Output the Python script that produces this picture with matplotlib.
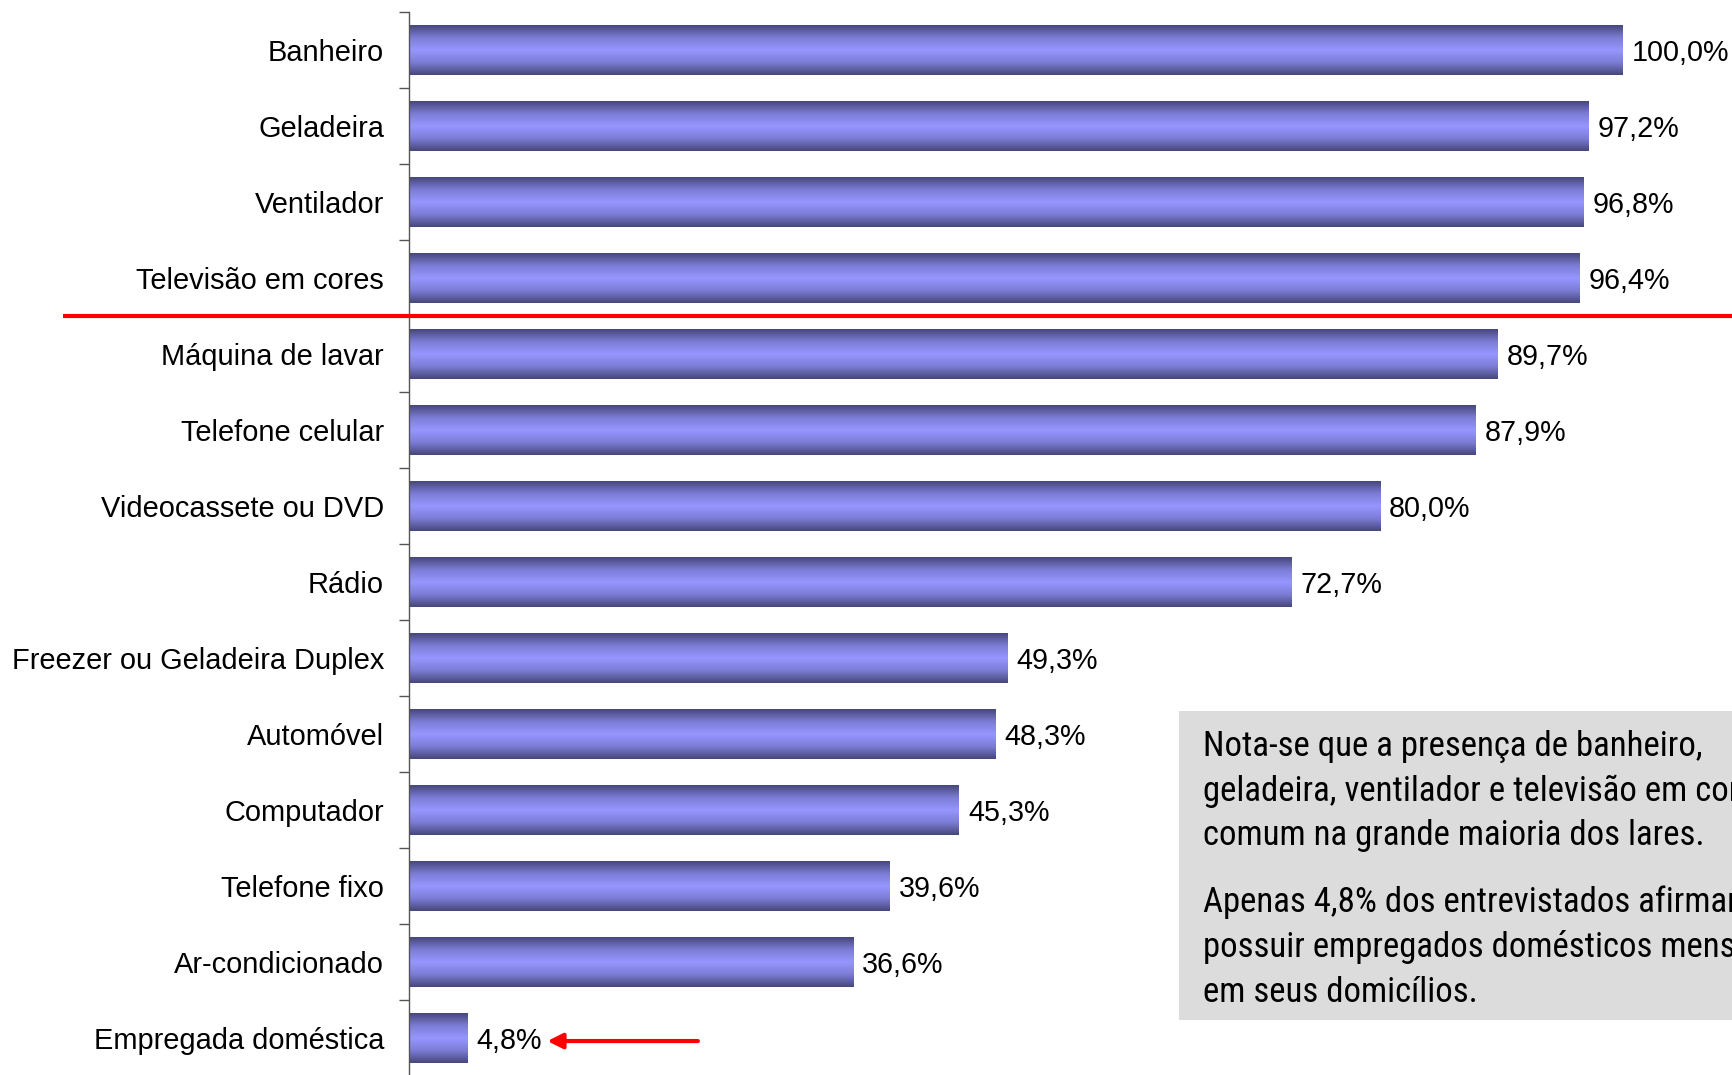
import numpy as np
import matplotlib
matplotlib.use("Agg")
import matplotlib.pyplot as plt
from matplotlib.colors import LinearSegmentedColormap
from matplotlib.patches import Rectangle
import matplotlib.transforms as mtransforms

categories = ["Banheiro", "Geladeira", "Ventilador", "Televisão em cores",
              "Máquina de lavar", "Telefone celular", "Videocassete ou DVD",
              "Rádio", "Freezer ou Geladeira Duplex", "Automóvel", "Computador",
              "Telefone fixo", "Ar-condicionado", "Empregada doméstica"]
values = [100.0, 97.2, 96.8, 96.4, 89.7, 87.9, 80.0, 72.7, 49.3, 48.3, 45.3,
          39.6, 36.6, 4.8]
value_labels = ["100,0%", "97,2%", "96,8%", "96,4%", "89,7%", "87,9%", "80,0%",
                "72,7%", "49,3%", "48,3%", "45,3%", "39,6%", "36,6%", "4,8%"]
note_par1 = ["Nota-se que a presença de banheiro,",
             "geladeira, ventilador e televisão em cores é",
             "comum na grande maioria dos lares."]
note_par2 = ["Apenas 4,8% dos entrevistados afirmam",
             "possuir empregados domésticos mensalistas",
             "em seus domicílios."]

plt.rcParams['font.family'] = ['Liberation Sans', 'DejaVu Sans']

W, H = 1732, 1075
fig = plt.figure(figsize=(W / 100, H / 100), dpi=100)
ax = fig.add_axes([409 / W, -1 / H, (W - 409) / W, 1064 / H])

fam_main = ['Liberation Sans', 'DejaVu Sans']
fam_narrow = ['Roboto Condensed', 'DejaVu Sans']

cmap = LinearSegmentedColormap.from_list(
    "bar", ["#46467a", "#7c7cd6", "#9696ff", "#7c7cd6", "#46467a"])
grad = np.linspace(0, 1, 256).reshape(-1, 1)

bh = 0.645
n = len(categories)
for i, (v, lab) in enumerate(zip(values, value_labels)):
    ax.imshow(grad, extent=[0, v, i + bh / 2, i - bh / 2], aspect='auto',
              cmap=cmap, interpolation='bicubic', zorder=2)
    ax.text(v + 0.75, i, lab, va='center_baseline', ha='left', fontsize=20.7,
            family=fam_main, color='black')

ax.set_xlim(0, 109)
ax.set_ylim(n - 0.5, -0.5)

for s in ["top", "right", "bottom"]:
    ax.spines[s].set_visible(False)
ax.spines["left"].set_color("#555555")
ax.spines["left"].set_linewidth(1.0)
ax.set_xticks([])
ax.set_yticks(np.arange(-0.5, n, 1.0))
ax.set_yticklabels([])
ax.tick_params(axis='y', which='major', length=7, color="#555555", width=1.0)
ax.set_yticks(np.arange(n), minor=True)
ax.set_yticklabels(categories, minor=True, fontsize=20.9, family=fam_main)
ax.tick_params(axis='y', which='minor', length=0, pad=18.0)

# red separator line
trans = mtransforms.blended_transform_factory(ax.transAxes, ax.transData)
ax.plot([(63 - 409) / (W - 409), 1.0], [3.5, 3.5], color="red", lw=3.0,
        transform=trans, clip_on=False, zorder=5, solid_capstyle='butt')

# arrow pointing to last value
ax.annotate("", xy=(values[-1] + 6.6, n - 1 + 0.04),
            xytext=(values[-1] + 19.0, n - 1 + 0.04),
            arrowprops=dict(arrowstyle="-|>,head_length=0.9,head_width=0.45",
                            color="red", lw=3.0, shrinkA=0, shrinkB=0),
            zorder=6)

# note box
fig.patches.append(Rectangle((1179 / W, (H - 1020) / H), (W - 1179) / W + 0.01,
                             (1020 - 711) / H, transform=fig.transFigure,
                             facecolor="#dcdcdc", edgecolor="none", zorder=0))
for j, line in enumerate(note_par1):
    fig.text(1203 / W, (H - (756 + 44.5 * j)) / H, line, fontsize=25.0,
             family=fam_narrow, va='baseline', ha='left', color='black')
for j, line in enumerate(note_par2):
    fig.text(1203 / W, (H - (912 + 45 * j)) / H, line, fontsize=25.0,
             family=fam_narrow, va='baseline', ha='left', color='black')

fig.savefig("out.png", dpi=100)
